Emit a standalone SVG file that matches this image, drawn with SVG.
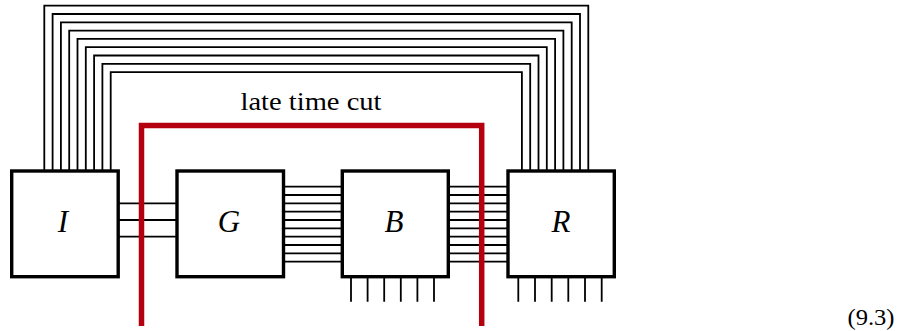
<svg xmlns="http://www.w3.org/2000/svg" width="898" height="331" viewBox="0 0 898 331">
<style>
.box{fill:#fff;stroke:#000;stroke-width:3.4}
.w{fill:none;stroke:#000;stroke-width:1.8}
.cut{fill:none;stroke:#b5000f;stroke-width:5.5}
.lbl{font-family:"Liberation Serif","Times New Roman","DejaVu Serif",serif;font-style:italic;font-size:31px;text-anchor:middle}
.txt{font-family:"Liberation Serif","Times New Roman","DejaVu Serif",serif;font-size:25px;text-anchor:middle}
</style>
<rect width="898" height="331" fill="#fff"/>
<g id="connectors">
<path class="w" d="M44.3 171V5.7H588.3V171M52.6 171V14H580V171M60.9 171V22.3H571.7V171M69.2 171V30.6H563.4V171M77.5 171V38.9H555.1V171M85.8 171V47.2H546.8V171M94.1 171V55.5H538.5V171M102.4 171V63.8H530.2V171M110.7 171V72.1H521.9V171"/>
<path class="w" d="M118 203.3H177M118 220H177M118 236.7H177"/>
<path class="w" d="M283 186.7H342.3M283 195H342.3M283 203.3H342.3M283 211.7H342.3M283 220H342.3M283 228.3H342.3M283 236.7H342.3M283 245H342.3M283 253.3H342.3M283 261.7H342.3"/>
<path class="w" d="M448 186.7H508M448 195H508M448 203.3H508M448 211.7H508M448 220H508M448 228.3H508M448 236.7H508M448 245H508M448 253.3H508M448 261.7H508"/>
<path class="w" d="M351 277V301.7M367.6 277V301.7M384.2 277V301.7M400.8 277V301.7M417.4 277V301.7M434 277V301.7"/>
<path class="w" d="M518.3 277V301.7M535 277V301.7M551.7 277V301.7M568.3 277V301.7M585 277V301.7M601.7 277V301.7"/>
</g>
<g id="I"><rect class="box" x="11.7" y="171" width="106.5" height="105.7"/><text class="lbl" x="63" y="232">I</text></g>
<g id="G"><rect class="box" x="177" y="171" width="106.5" height="105.7"/><text class="lbl" x="229" y="232">G</text></g>
<g id="B"><rect class="box" x="342.3" y="171" width="106" height="105.7"/><text class="lbl" x="394" y="232">B</text></g>
<g id="R"><rect class="box" x="508" y="171" width="106.3" height="105.7"/><text class="lbl" x="561" y="232">R</text></g>
<g id="cut">
<path class="cut" d="M141.5 326V125.5H481.7V326"/>
<text class="txt" x="311" y="110" textLength="141" lengthAdjust="spacingAndGlyphs">late time cut</text>
</g>
<text class="txt" x="871" y="325" style="font-size:24px" textLength="47" lengthAdjust="spacingAndGlyphs">(9.3)</text>
</svg>
